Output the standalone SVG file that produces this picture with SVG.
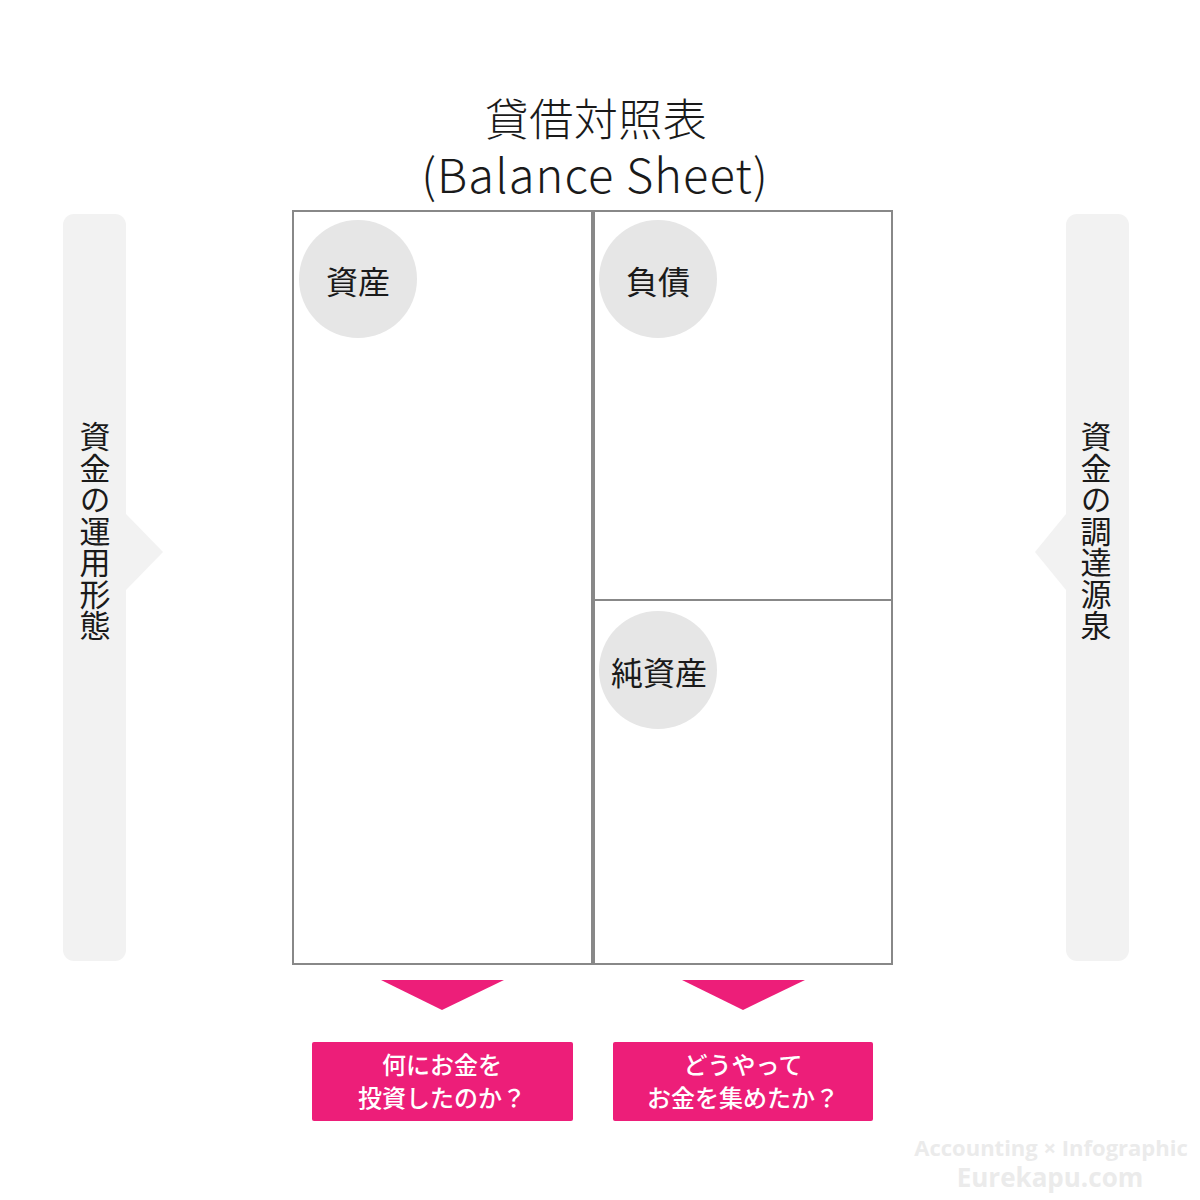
<svg xmlns="http://www.w3.org/2000/svg" width="1200" height="1200" viewBox="0 0 1200 1200">
<style>
text{font-family:"Noto Sans CJK JP","Noto Sans",sans-serif;}
.bar{fill:#f2f2f2;}
.box{fill:#fff;stroke:#888;stroke-width:2;}
.circ{fill:#e6e6e6;}
.lbl{font-size:32px;fill:#1a1a1a;text-anchor:middle;}
.vt{font-size:31px;fill:#1a1a1a;writing-mode:vertical-rl;letter-spacing:0.5px;}
.pink{fill:#ed1e79;}
.q{font-size:24px;fill:#fff;text-anchor:middle;font-weight:500;}
.wm{fill:#ebebeb;font-weight:bold;text-anchor:middle;font-family:"Open Sans","Noto Sans",sans-serif;}
</style>
<rect width="1200" height="1200" fill="#fff"/>
<g id="title">
<text x="596" y="136" font-size="44" font-weight="300" text-anchor="middle" fill="#1a1a1a" letter-spacing="0.5">貸借対照表</text>
<text x="595" y="193" font-size="47" font-weight="300" text-anchor="middle" fill="#1a1a1a" letter-spacing="1.1">(Balance Sheet)</text>
</g>
<g id="left-bar">
<rect class="bar" x="63" y="214" width="63" height="747" rx="11"/>
<polygon class="bar" points="126,514 163,552 126,590"/>
<text class="vt" x="95" y="421">資金の運用形態</text>
</g>
<g id="right-bar">
<rect class="bar" x="1066" y="214" width="63" height="747" rx="11"/>
<polygon class="bar" points="1066,514 1035,552 1066,590"/>
<text class="vt" x="1096" y="421">資金の調達源泉</text>
</g>
<g id="assets">
<rect class="box" x="293" y="211" width="299" height="753"/>
<circle class="circ" cx="358" cy="279" r="59"/>
<text class="lbl" x="358" y="294">資産</text>
</g>
<g id="liabilities">
<rect class="box" x="594" y="211" width="298" height="389"/>
<circle class="circ" cx="658" cy="279" r="59"/>
<text class="lbl" x="658" y="294">負債</text>
</g>
<g id="net-assets">
<rect class="box" x="594" y="600" width="298" height="364"/>
<circle class="circ" cx="658" cy="670" r="59"/>
<text class="lbl" x="659" y="685">純資産</text>
</g>
<g id="connectors">
<polygon class="pink" points="381,980 504,980 442,1010"/>
<polygon class="pink" points="682,980 805,980 743,1010"/>
</g>
<g id="q-left">
<rect class="pink" x="312" y="1042" width="261" height="79" rx="2"/>
<text class="q" x="442" y="1074">何にお金を</text>
<text class="q" x="442" y="1107">投資したのか？</text>
</g>
<g id="q-right">
<rect class="pink" x="613" y="1042" width="260" height="79" rx="2"/>
<text class="q" x="743" y="1074">どうやって</text>
<text class="q" x="743" y="1107">お金を集めたか？</text>
</g>
<g id="watermark">
<text class="wm" x="1051" y="1156" font-size="22">Accounting × Infographic</text>
<text class="wm" x="1050" y="1187" font-size="26">Eurekapu.com</text>
</g>
</svg>
